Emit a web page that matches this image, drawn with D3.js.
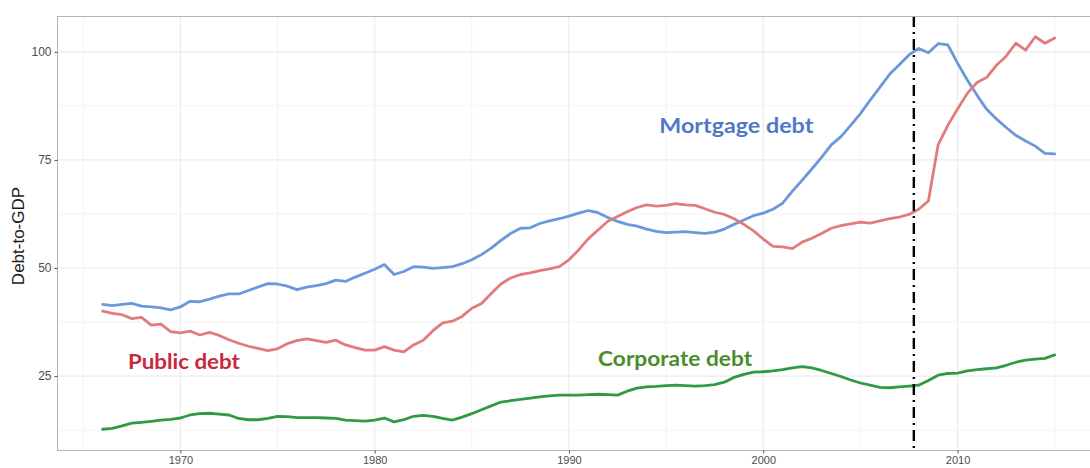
<!DOCTYPE html>
<html>
<head>
<meta charset="utf-8">
<script src="https://cdn.jsdelivr.net/npm/d3@7"></script>
<style>
  html, body { margin: 0; padding: 0; background: #fff; }
  svg { display: block; }
</style>
</head>
<body>
<svg id="chart" width="1090" height="468"></svg>
<script>
const years = d3.range(0, 99).map(i => 1966 + i * 0.5);

const mortgageDebt = [
  41.6, 41.3, 41.6, 41.8, 41.2, 41.0, 40.8, 40.3, 41.0, 42.3,
  42.2, 42.8, 43.5, 44.0, 44.0, 44.8, 45.6, 46.4, 46.3, 45.8,
  45.0, 45.6, 45.9, 46.4, 47.2, 46.9, 47.9, 48.8, 49.7, 50.8,
  48.5, 49.2, 50.3, 50.2, 49.9, 50.1, 50.3, 51.0, 51.9, 53.1,
  54.6, 56.4, 58.0, 59.2, 59.3, 60.3, 60.9, 61.4, 62.0, 62.7,
  63.3, 62.8, 61.7, 60.8, 60.1, 59.7, 59.0, 58.5, 58.2, 58.3,
  58.4, 58.2, 58.0, 58.3, 59.0, 60.1, 61.1, 62.1, 62.7, 63.6,
  65.0, 67.8, 70.3, 72.9, 75.6, 78.5, 80.4, 83.0, 85.7, 88.8,
  91.8, 94.8, 97.0, 99.3, 100.8, 99.8, 101.9, 101.6, 97.4, 93.5,
  90.0, 86.7, 84.5, 82.5, 80.7, 79.4, 78.2, 76.5, 76.4
];

const publicDebt = [
  40.0, 39.5, 39.2, 38.3, 38.6, 36.8, 37.0, 35.3, 35.0, 35.4,
  34.5, 35.1, 34.4, 33.4, 32.6, 31.9, 31.4, 30.9, 31.3, 32.5,
  33.2, 33.6, 33.2, 32.8, 33.3, 32.2, 31.6, 31.0, 31.0, 31.8,
  31.0, 30.6, 32.2, 33.3, 35.5, 37.3, 37.7, 38.8, 40.7, 41.8,
  44.1, 46.3, 47.7, 48.5, 48.9, 49.4, 49.8, 50.3, 51.9, 54.2,
  56.8, 58.8, 60.8, 61.9, 63.0, 64.0, 64.6, 64.3, 64.5, 64.9,
  64.6, 64.5, 63.7, 62.9, 62.4, 61.4, 60.1, 58.6, 56.7, 55.0,
  54.9, 54.5, 56.0, 56.9, 58.0, 59.2, 59.8, 60.2, 60.6, 60.4,
  60.9, 61.4, 61.8, 62.4, 63.6, 65.5, 78.5, 83.0, 86.8, 90.4,
  92.9, 94.1, 96.9, 99.0, 102.0, 100.4, 103.5, 102.0, 103.2
];

const corporateDebt = [
  12.7, 12.9, 13.5, 14.1, 14.3, 14.5, 14.8, 15.0, 15.3, 16.0,
  16.3, 16.4, 16.2, 16.0, 15.2, 14.9, 14.9, 15.2, 15.7, 15.6,
  15.4, 15.4, 15.4, 15.3, 15.2, 14.8, 14.7, 14.6, 14.8, 15.3,
  14.4, 14.9, 15.7, 15.9, 15.7, 15.2, 14.8, 15.5, 16.3, 17.2,
  18.1, 19.0, 19.3, 19.6, 19.9, 20.2, 20.4, 20.6, 20.6, 20.6,
  20.7, 20.8, 20.7, 20.6, 21.5, 22.2, 22.5, 22.6, 22.8, 22.9,
  22.8, 22.7, 22.8, 23.0, 23.6, 24.7, 25.4, 25.9, 26.0, 26.2,
  26.5, 26.9, 27.2, 26.9, 26.3, 25.6, 24.9, 24.1, 23.4, 22.9,
  22.4, 22.3, 22.5, 22.7, 22.9, 24.0, 25.2, 25.6, 25.7, 26.2,
  26.5, 26.7, 26.9, 27.5, 28.2, 28.7, 28.9, 29.1, 29.9
];

const seriesNames = ["Mortgage debt", "Public debt", "Corporate debt"];
const seriesValues = [mortgageDebt, publicDebt, corporateDebt];
const seriesColors = ["#6a98db", "#e27b7c", "#2f9a45"];
const labelColors = ["#4f79c6", "#c9283b", "#4b8c2c"];
const labelYears = [1994.65, 1967.3, 1991.5];
const labelValues = [81.3, 26.6, 27.3];
const labelWidths = [154, 112, 154];

const xTicks = [1970, 1980, 1990, 2000, 2010];
const xMinor = [1965, 1975, 1985, 1995, 2005, 2015];
const yTicks = [25, 50, 75, 100];
const yMinor = [12.5, 37.5, 62.5, 87.5];
const crisisYear = 2007.75;
const yTitle = "Debt-to-GDP";

// ---- Layout ----
const svg = d3.select("#chart");
const pLeft = 57, pTop = 16, pBottom = 450, pRight = 1102.3;

const x = d3.scaleLinear().domain([1963.65, 2017.45]).range([pLeft, pRight]);
const y = d3.scaleLinear().domain([7.9, 108.3]).range([pBottom, pTop]);

// Grid
const grid = svg.append("g");
grid.selectAll(".ymin").data(yMinor).enter().append("line")
  .attr("x1", pLeft).attr("x2", pRight)
  .attr("y1", d => y(d)).attr("y2", d => y(d))
  .attr("stroke", "#f4f4f4").attr("stroke-width", 1);
grid.selectAll(".xmin").data(xMinor).enter().append("line")
  .attr("y1", pTop).attr("y2", pBottom)
  .attr("x1", d => x(d)).attr("x2", d => x(d))
  .attr("stroke", "#f4f4f4").attr("stroke-width", 1);
grid.selectAll(".ymaj").data(yTicks).enter().append("line")
  .attr("x1", pLeft).attr("x2", pRight)
  .attr("y1", d => y(d)).attr("y2", d => y(d))
  .attr("stroke", "#ebebeb").attr("stroke-width", 1.2);
grid.selectAll(".xmaj").data(xTicks).enter().append("line")
  .attr("y1", pTop).attr("y2", pBottom)
  .attr("x1", d => x(d)).attr("x2", d => x(d))
  .attr("stroke", "#ebebeb").attr("stroke-width", 1.2);

// Series lines
const line = d3.line()
  .x((d, i) => x(years[i]))
  .y(d => y(d));

seriesValues.forEach((vals, k) => {
  svg.append("path")
    .datum(vals)
    .attr("fill", "none")
    .attr("stroke", seriesColors[k])
    .attr("stroke-width", 2.8)
    .attr("stroke-linejoin", "round")
    .attr("stroke-linecap", "round")
    .attr("d", line);
});

// Crisis marker
svg.append("line")
  .attr("x1", x(crisisYear)).attr("x2", x(crisisYear))
  .attr("y1", pTop).attr("y2", pBottom)
  .attr("stroke", "#000").attr("stroke-width", 2.4)
  .attr("stroke-dasharray", "11,5,2,5");

// Panel border
svg.append("rect")
  .attr("x", pLeft + 0.5).attr("y", pTop + 0.5)
  .attr("width", pRight - pLeft).attr("height", pBottom - pTop)
  .attr("fill", "none").attr("stroke", "#b5b5b5").attr("stroke-width", 1);

// Axes
const xAxis = d3.axisBottom(x).tickValues(xTicks).tickFormat(d3.format("d"))
  .tickSize(3).tickPadding(3);
const gx = svg.append("g").attr("transform", `translate(0,${pBottom + 0.5})`).call(xAxis);
gx.select(".domain").remove();
gx.selectAll(".tick line").attr("stroke", "#555");
gx.selectAll(".tick text").attr("fill", "#4d4d4d")
  .style("font-family", "'Liberation Sans', Arial, sans-serif").style("font-size", "11px");

const yAxis = d3.axisLeft(y).tickValues(yTicks).tickSize(3).tickPadding(3);
const gy = svg.append("g").attr("transform", `translate(${pLeft + 0.5},0)`).call(yAxis);
gy.select(".domain").remove();
gy.selectAll(".tick line").attr("stroke", "#555");
gy.selectAll(".tick text").attr("fill", "#4d4d4d")
  .style("font-family", "'Liberation Sans', Arial, sans-serif").style("font-size", "12px");

// Y title
svg.append("text")
  .attr("transform", `translate(24,236) rotate(-90)`)
  .attr("text-anchor", "middle")
  .attr("fill", "#1a1a1a")
  .style("font-family", "'Liberation Sans', Arial, sans-serif")
  .style("font-size", "17px")
  .text(yTitle);

// Series labels
seriesNames.forEach((name, k) => {
  svg.append("text")
    .attr("x", x(labelYears[k]))
    .attr("y", y(labelValues[k]))
    .attr("fill", labelColors[k])
    .attr("textLength", labelWidths[k])
    .attr("lengthAdjust", "spacingAndGlyphs")
    .style("font-family", "Lato, 'Open Sans', sans-serif")
    .style("font-weight", "bold")
    .style("font-size", "21px")
    .text(name);
});
</script>
</body>
</html>
